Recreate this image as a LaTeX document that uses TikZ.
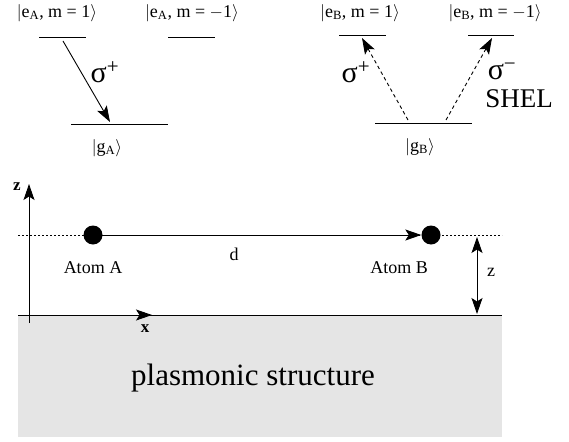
\documentclass[tikz,border=0pt]{standalone}
\usepackage{fontspec}
\setmainfont{Liberation Serif}
\usetikzlibrary{arrows.meta}
\begin{document}
\begin{tikzpicture}[x=1pt,y=-1pt,
  lvl/.style={line width=1pt},
  tip/.tip={Stealth[length=16pt,width=11pt,inset=3.5pt]},
  arr/.style={line width=0.9pt,-tip},
  darr/.style={arr,dash pattern=on 3.5pt off 3pt},
  lab/.style={inner sep=0pt,font=\fontsize{18}{20}\selectfont},
  sig/.style={inner sep=0pt,font=\fontsize{30}{32}\selectfont},
  dot/.style={circle,fill=black,minimum size=19pt,inner sep=0pt}]
\useasboundingbox (0,0) rectangle (569,441);
% substrate
\fill[gray!20] (18,315) rectangle (502,437);
\node[inner sep=0pt,font=\fontsize{31}{34}\selectfont] (ps) at (253,378) {plasmonic structure};
% levels atom A
\draw[lvl] (39,38) coordinate (ea1l) -- (86,38) coordinate (ea1r);
\draw[lvl] (168,38) coordinate (ea2l) -- (215,38) coordinate (ea2r);
\draw[lvl] (71,124) coordinate (gal) -- (168,124) coordinate (gar);
\node[lab] (kea1) at (57,13) {$|$e\textsubscript{A}, m = 1$\rangle$};
\node[lab] (kea2) at (192,13) {$|$e\textsubscript{A}, m = $-$1$\rangle$};
\node[lab] (kga) at (107,148) {$|$g\textsubscript{A}$\rangle$};
\coordinate (a1) at (63,41);
\coordinate (a2) at (110,122);
\draw[arr] (a1) -- (a2);
\node[sig] (sa) at (105,72) {σ\textsuperscript{+}};
% levels atom B
\draw[lvl] (339,36) coordinate (eb1l) -- (386,36) coordinate (eb1r);
\draw[lvl] (468,36) coordinate (eb2l) -- (514,36) coordinate (eb2r);
\draw[lvl] (375,123) coordinate (gbl) -- (472,123) coordinate (gbr);
\node[lab] (keb1) at (360,13) {$|$e\textsubscript{B}, m = 1$\rangle$};
\node[lab] (keb2) at (495,13) {$|$e\textsubscript{B}, m = $-$1$\rangle$};
\node[lab] (kgb) at (420,147) {$|$g\textsubscript{B}$\rangle$};
\coordinate (b1) at (408,120);
\coordinate (b2) at (362,38);
\coordinate (b3) at (446,120);
\coordinate (b4) at (492,38);
\draw[darr] (b1) -- (b2);
\draw[darr] (b3) -- (b4);
\node[sig] (sb1) at (356,72) {σ\textsuperscript{+}};
\node[sig] (sb2) at (502,71) {σ\textsuperscript{−}};
\node[inner sep=0pt,font=\fontsize{27}{29}\selectfont] (shel) at (519,99) {SHEL};
% geometry
\draw[line width=1pt] (18,315) coordinate (sl) -- (502,315) coordinate (sr);
\coordinate (ox) at (18,315);
\coordinate (xt) at (152,315);
\draw[arr] (ox) -- (xt);
\node[inner sep=0pt,font=\bfseries\fontsize{17}{19}\selectfont] (xl) at (145,329) {x};
\coordinate (zb) at (29,323);
\coordinate (zt) at (29,184);
\draw[arr] (zb) -- (zt);
\node[inner sep=0pt,font=\bfseries\fontsize{17}{19}\selectfont] (zl) at (17,187) {z};
\draw[line width=0.9pt,dash pattern=on 2pt off 2pt] (18,235) coordinate (dl) -- (502,235) coordinate (dr);
\node[dot] (A) at (93,235) {};
\node[dot] (B) at (431,235) {};
\draw[arr] (A) -- (B);
\node[lab] (dl) at (234,254) {d};
\node[lab] (la) at (93,268) {Atom A};
\node[lab] (lb) at (399,268) {Atom B};
\coordinate (h1) at (477,237);
\coordinate (h2) at (477,314);
\draw[line width=0.9pt,tip-tip] (h1) -- (h2);
\node[lab] (zh) at (491,272) {z};
\end{tikzpicture}
\end{document}
